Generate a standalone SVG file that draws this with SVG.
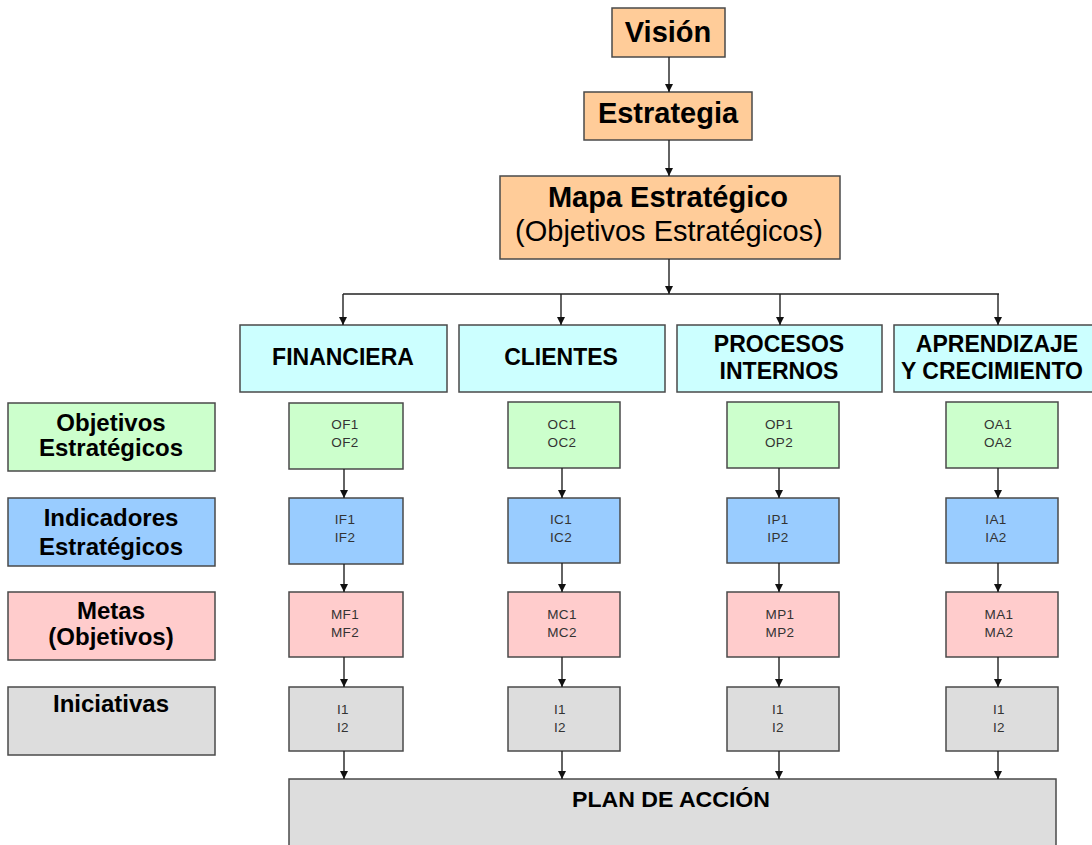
<svg xmlns="http://www.w3.org/2000/svg" width="1092" height="845" viewBox="0 0 1092 845">
  <style>
    .box { stroke: #4a4a4a; stroke-width: 1.5; }
    .top { fill: #FFCC99; }
    .persp { fill: #CCFFFF; }
    .obj { fill: #CCFFCC; }
    .ind { fill: #99CCFF; }
    .meta { fill: #FFCCCC; }
    .ini { fill: #DDDDDD; }
    text { font-family: "Liberation Sans", Arial, sans-serif; fill: #000; text-anchor: middle; }
    .b { font-weight: bold; }
    .big { font-size: 29px; }
    .hdr { font-size: 23px; font-weight: bold; }
    .lbl { font-size: 24px; font-weight: bold; }
    .sm { font-size: 13.5px; fill: #333; letter-spacing: 0.4px; }
    .conn { stroke: #222; stroke-width: 1.4; fill: none; }
  </style>
  <defs>
    <marker id="arrow" viewBox="0 0 10 10" refX="10" refY="5" markerWidth="8" markerHeight="10" markerUnits="userSpaceOnUse" orient="auto">
      <path d="M0,0 L10,5 L0,10 z" fill="#111"/>
    </marker>
  </defs>
  <rect width="1092" height="845" fill="#fff"/>

  <!-- top chain -->
  <g id="vision">
    <rect class="box top" x="612" y="8" width="113" height="49"/>
    <text class="b big" x="668" y="42">Visión</text>
  </g>
  <g id="estrategia">
    <rect class="box top" x="584" y="92" width="168" height="48"/>
    <text class="b big" x="668" y="123" font-size="28">Estrategia</text>
  </g>
  <g id="mapa">
    <rect class="box top" x="500" y="176" width="340" height="83"/>
    <text class="b big" x="668" y="207">Mapa Estratégico</text>
    <text class="big" x="669" y="241">(Objetivos Estratégicos)</text>
  </g>

  <!-- perspectives -->
  <g id="financiera">
    <rect class="box persp" x="240" y="325" width="207" height="67"/>
    <text class="hdr" x="343" y="365">FINANCIERA</text>
  </g>
  <g id="clientes">
    <rect class="box persp" x="459" y="325" width="206" height="67"/>
    <text class="hdr" x="561" y="365">CLIENTES</text>
  </g>
  <g id="procesos">
    <rect class="box persp" x="677" y="325" width="205" height="67"/>
    <text class="hdr" x="779" y="352">PROCESOS</text>
    <text class="hdr" x="779" y="379">INTERNOS</text>
  </g>
  <g id="aprendizaje">
    <rect class="box persp" x="894" y="325" width="210" height="67"/>
    <text class="hdr" x="997" y="352">APRENDIZAJE</text>
    <text class="hdr" x="992" y="379">Y CRECIMIENTO</text>
  </g>

  <!-- row labels -->
  <g id="lbl-objetivos">
    <rect class="box obj" x="8" y="403" width="207" height="68"/>
    <text class="lbl" x="111" y="431">Objetivos</text>
    <text class="lbl" x="111" y="456">Estratégicos</text>
  </g>
  <g id="lbl-indicadores">
    <rect class="box ind" x="8" y="498" width="207" height="68"/>
    <text class="lbl" x="111" y="526">Indicadores</text>
    <text class="lbl" x="111" y="555">Estratégicos</text>
  </g>
  <g id="lbl-metas">
    <rect class="box meta" x="8" y="592" width="207" height="68"/>
    <text class="lbl" x="111" y="619">Metas</text>
    <text class="lbl" x="111" y="645">(Objetivos)</text>
  </g>
  <g id="lbl-iniciativas">
    <rect class="box ini" x="8" y="687" width="207" height="68"/>
    <text class="lbl" x="111" y="712">Iniciativas</text>
  </g>

  <!-- financiera column -->
  <g id="of"><rect class="box obj" x="289" y="403" width="114" height="66"/><text class="sm" x="345" y="429">OF1</text><text class="sm" x="345" y="447">OF2</text></g>
  <g id="if"><rect class="box ind" x="289" y="498" width="114" height="66"/><text class="sm" x="345" y="524">IF1</text><text class="sm" x="345" y="542">IF2</text></g>
  <g id="mf"><rect class="box meta" x="289" y="592" width="114" height="65"/><text class="sm" x="345" y="619">MF1</text><text class="sm" x="345" y="637">MF2</text></g>
  <g id="if-ini"><rect class="box ini" x="289" y="687" width="114" height="64"/><text class="sm" x="343" y="714">I1</text><text class="sm" x="343" y="732">I2</text></g>

  <!-- clientes column -->
  <g id="oc"><rect class="box obj" x="508" y="402" width="112" height="66"/><text class="sm" x="562" y="429">OC1</text><text class="sm" x="562" y="447">OC2</text></g>
  <g id="ic"><rect class="box ind" x="508" y="498" width="112" height="65"/><text class="sm" x="561" y="524">IC1</text><text class="sm" x="561" y="542">IC2</text></g>
  <g id="mc"><rect class="box meta" x="508" y="592" width="112" height="65"/><text class="sm" x="562" y="619">MC1</text><text class="sm" x="562" y="637">MC2</text></g>
  <g id="ic-ini"><rect class="box ini" x="508" y="687" width="112" height="64"/><text class="sm" x="560" y="714">I1</text><text class="sm" x="560" y="732">I2</text></g>

  <!-- procesos column -->
  <g id="op"><rect class="box obj" x="727" y="402" width="112" height="66"/><text class="sm" x="779" y="429">OP1</text><text class="sm" x="779" y="447">OP2</text></g>
  <g id="ip"><rect class="box ind" x="727" y="498" width="112" height="65"/><text class="sm" x="778" y="524">IP1</text><text class="sm" x="778" y="542">IP2</text></g>
  <g id="mp"><rect class="box meta" x="727" y="592" width="112" height="65"/><text class="sm" x="780" y="619">MP1</text><text class="sm" x="780" y="637">MP2</text></g>
  <g id="ip-ini"><rect class="box ini" x="727" y="687" width="112" height="64"/><text class="sm" x="778" y="714">I1</text><text class="sm" x="778" y="732">I2</text></g>

  <!-- aprendizaje column -->
  <g id="oa"><rect class="box obj" x="946" y="402" width="112" height="66"/><text class="sm" x="998" y="429">OA1</text><text class="sm" x="998" y="447">OA2</text></g>
  <g id="ia"><rect class="box ind" x="946" y="498" width="112" height="65"/><text class="sm" x="996" y="524">IA1</text><text class="sm" x="996" y="542">IA2</text></g>
  <g id="ma"><rect class="box meta" x="946" y="592" width="112" height="65"/><text class="sm" x="999" y="619">MA1</text><text class="sm" x="999" y="637">MA2</text></g>
  <g id="ia-ini"><rect class="box ini" x="946" y="687" width="112" height="64"/><text class="sm" x="999" y="714">I1</text><text class="sm" x="999" y="732">I2</text></g>

  <!-- action plan -->
  <g id="plan">
    <rect class="box ini" x="289" y="779" width="767" height="80"/>
    <text class="b" x="572" y="807" font-size="22" textLength="198" lengthAdjust="spacingAndGlyphs" style="text-anchor:start">PLAN DE ACCIÓN</text>
  </g>

  <!-- connectors -->
  <g id="connectors" class="conn" marker-end="url(#arrow)">
    <line x1="669" y1="57" x2="669" y2="92"/>
    <line x1="669" y1="140" x2="669" y2="176"/>
    <line x1="669" y1="259" x2="669" y2="294"/>
    <line x1="343" y1="294" x2="999" y2="294" marker-end="none"/>
    <line x1="343" y1="294" x2="343" y2="325"/>
    <line x1="561" y1="294" x2="561" y2="325"/>
    <line x1="780" y1="294" x2="780" y2="325"/>
    <line x1="998" y1="294" x2="998" y2="325"/>

    <line x1="344" y1="469" x2="344" y2="498"/>
    <line x1="344" y1="564" x2="344" y2="592"/>
    <line x1="344" y1="657" x2="344" y2="687"/>
    <line x1="344" y1="751" x2="344" y2="779"/>

    <line x1="562" y1="468" x2="562" y2="498"/>
    <line x1="562" y1="563" x2="562" y2="592"/>
    <line x1="562" y1="657" x2="562" y2="687"/>
    <line x1="562" y1="751" x2="562" y2="779"/>

    <line x1="779" y1="468" x2="779" y2="498"/>
    <line x1="779" y1="563" x2="779" y2="592"/>
    <line x1="779" y1="657" x2="779" y2="687"/>
    <line x1="779" y1="751" x2="779" y2="779"/>

    <line x1="998" y1="468" x2="998" y2="498"/>
    <line x1="998" y1="563" x2="998" y2="592"/>
    <line x1="998" y1="657" x2="998" y2="687"/>
    <line x1="998" y1="751" x2="998" y2="779"/>
  </g>
</svg>
